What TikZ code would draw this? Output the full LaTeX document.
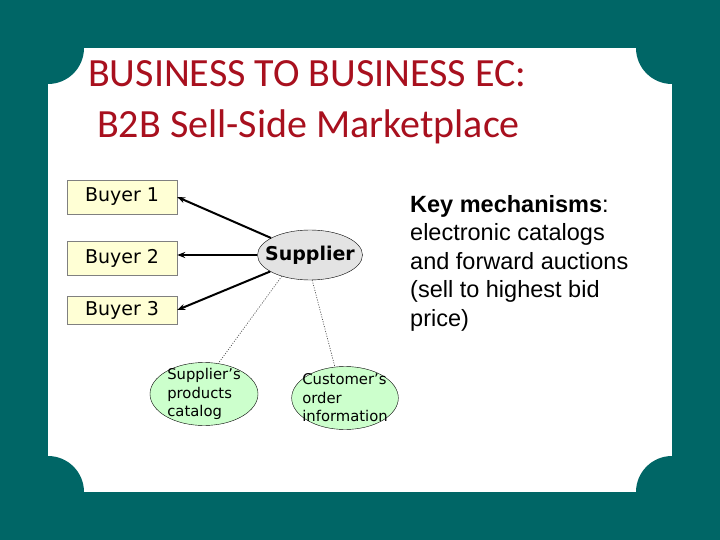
\documentclass[tikz,border=0pt]{standalone}
\usepackage{fontspec}
\setmainfont{DejaVu Sans}
\newfontfamily\titlefont{Carlito}
\newfontfamily\keyfont{Liberation Sans}
\usetikzlibrary{arrows.meta,shapes.geometric}
\definecolor{slidebg}{HTML}{006666}
\definecolor{titlered}{HTML}{A8101E}
\definecolor{buyerfill}{HTML}{FFFFD5}
\definecolor{supfill}{HTML}{E3E3E3}
\definecolor{infofill}{HTML}{CCFFCC}

\begin{document}
\begin{tikzpicture}[x=1pt, y=-1pt,
    titletext/.style={text=titlered, inner sep=0pt, anchor=base west, font=\titlefont\fontsize{40}{44}\selectfont},
    buyer/.style={draw=gray, fill=buyerfill, minimum width=110pt, minimum height=34pt, inner sep=0pt, font=\fontsize{19}{22}\selectfont},
    hub/.style={ellipse, draw, fill=supfill, minimum width=105pt, minimum height=50pt, inner sep=-8pt, font=\bfseries\fontsize{19}{22}\selectfont},
    info/.style={ellipse, draw, fill=infofill, minimum width=108pt, minimum height=63pt, inner sep=-5pt, align=left, font=\fontsize{14.8}{18.5}\selectfont},
    sell/.style={line width=2pt, -{Stealth[length=8pt,width=6pt]}},
    link/.style={gray!60!black, line width=0.7pt, dash pattern=on 1pt off 1.5pt}]
  % \draw [help lines] (0,0) grid (720,540);
  \fill[slidebg] (0,0) rectangle (720,540);
  \fill[white] (48,48) rectangle (672,492);
  \foreach \cx/\cy in {48/48, 672/48, 48/492, 672/492}
    \fill[slidebg] (\cx,\cy) circle (36pt);

  \node[titletext] (head1) at (88,87) {BUSINESS TO BUSINESS EC:};
  \node[titletext] (head2) at (97,138) {B2B Sell-Side Marketplace};

  \node[buyer] (b1) at (122,197) {Buyer 1};
  \node[buyer] (b2) at (122,258.5) {Buyer 2};
  \node[buyer, minimum height=28pt] (b3) at (122,310) {Buyer 3};

  \node[hub] (sup) at (310,255) {Supplier};
  \node[info] (cat) at (204,394) {Supplier’s\\products\\catalog};
  \node[info, minimum width=105pt] (ord) at (345,398) {Customer’s\\order\\information};

  \draw[sell] (sup) -- (b1.east);
  \draw[sell] (sup.west) -- (sup.west -| b2.east);
  \draw[sell] (sup) -- (b3.east);

  \draw[link] (sup.217) -- (cat.65);
  \draw[link] (sup.-85) -- (ord.108);

  \node[anchor=north west, inner sep=0pt, align=left, font=\keyfont\fontsize{23.5}{28.5}\selectfont] (keys) at (410,195)
    {\textbf{Key mechanisms}:\\electronic catalogs\\and forward auctions\\(sell to highest bid\\price)};
\end{tikzpicture}
\end{document}
